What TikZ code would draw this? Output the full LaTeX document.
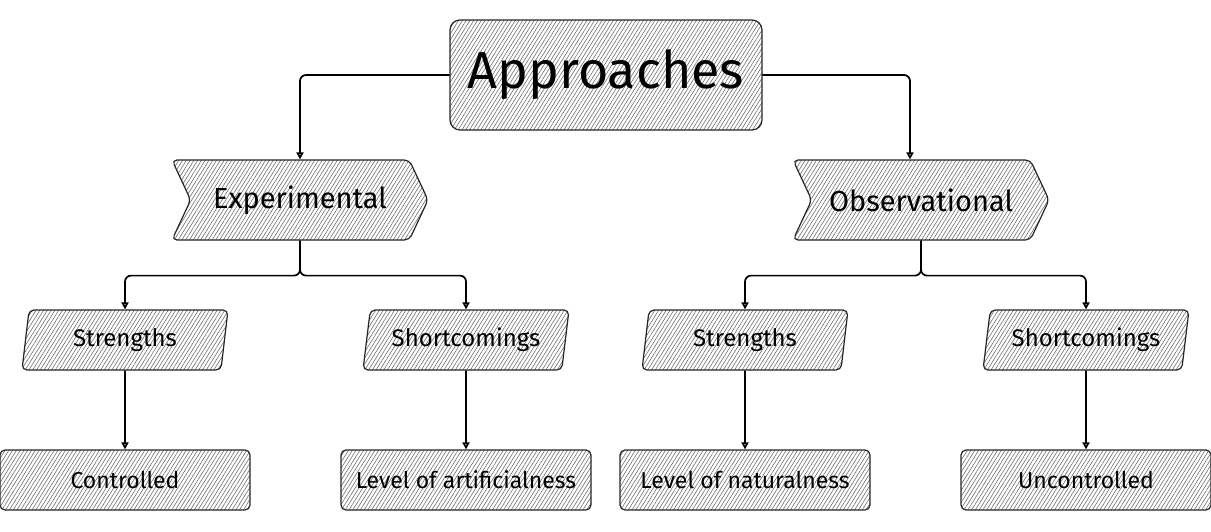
\documentclass[tikz,border=0pt]{standalone}
\usepackage{fontspec}
\setmainfont{Fira Sans}
\usetikzlibrary{shapes.geometric,shapes.symbols,arrows.meta,patterns.meta}
\begin{document}
\begin{tikzpicture}[x=1pt,y=-1pt,
 hatch/.style={draw=black!85, line width=1.2pt, preaction={fill=white}, pattern={Lines[angle=58,distance=3.2pt,line width=0.55pt]}, pattern color=black!60, rounded corners=5pt, inner sep=0pt},
 rootbox/.style={hatch, rectangle, minimum width=312pt, minimum height=110pt, rounded corners=10pt, font=\fontsize{52}{62}\selectfont},
 chev/.style={hatch, signal, signal to=east, signal from=west, signal pointer angle=130, minimum width=256pt, minimum height=80pt, font=\fontsize{29}{34}\selectfont},
 para/.style={hatch, trapezium, trapezium left angle=73, trapezium right angle=107, trapezium stretches body, minimum width=206pt, minimum height=60pt, font=\fontsize{24}{28}\selectfont},
 leaf/.style={hatch, rectangle, minimum width=250pt, minimum height=60pt, font=\fontsize{23}{27}\selectfont},
 conn/.style={draw=black, line width=1.7pt, rounded corners=6pt, -{Triangle[open,length=7pt,width=7pt]}}
]
\useasboundingbox (0,0) rectangle (1211,531);
\node[rootbox] (root) at (606,75) {Approaches};
\node[chev] (exp) at (300,200) {Experimental};
\node[chev] (obs) at (921,200) {Observational};
\node[para] (sL) at (125,340) {Strengths};
\node[para] (shL) at (466,340) {Shortcomings};
\node[para] (sR) at (745,340) {Strengths};
\node[para] (shR) at (1086,340) {Shortcomings};
\node[leaf] (cL) at (125,480) {Controlled};
\node[leaf] (aL) at (466,480) {Level of artificialness};
\node[leaf] (nR) at (745,480) {Level of naturalness};
\node[leaf] (uR) at (1086,480) {Uncontrolled};
\draw[conn] (root.west) -| (exp.north);
\draw[conn] (root.east) -| ([xshift=-11pt]obs.north);
\draw[conn] (exp.south) -- ++(0,35) -| (sL.north);
\draw[conn] (exp.south) -- ++(0,35) -| (shL.north);
\draw[conn] (obs.south) -- ++(0,35) -| (sR.north);
\draw[conn] (obs.south) -- ++(0,35) -| (shR.north);
\draw[conn] (sL.south) -- (cL.north);
\draw[conn] (shL.south) -- (aL.north);
\draw[conn] (sR.south) -- (nR.north);
\draw[conn] (shR.south) -- (uR.north);
\end{tikzpicture}
\end{document}
